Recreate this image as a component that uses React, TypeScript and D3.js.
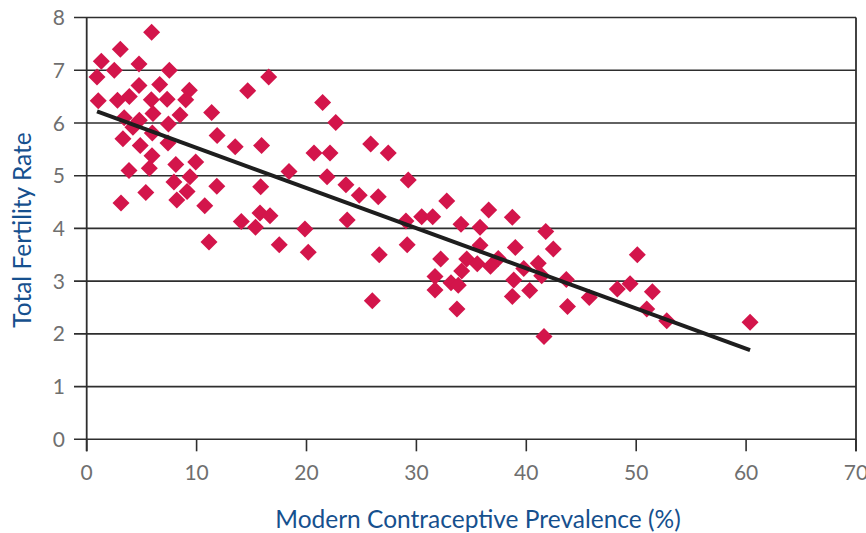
import React from "react";
import * as d3 from "d3";

// Modern contraceptive prevalence (%) per country
const prevalence = [
  5.91, 3.06, 1.33, 2.51, 4.76, 7.52, 0.94, 16.56, 4.76, 6.64,
  3.88, 2.80, 9.34, 9.01, 14.65, 1.05, 5.88, 7.32, 6.03, 8.49,
  11.37, 3.41, 4.79, 7.44, 4.21, 5.97, 3.30, 11.87, 7.40, 4.87,
  13.51, 15.91, 5.94, 8.11, 9.92, 3.85, 5.70, 18.41, 9.40, 7.94,
  11.84, 15.83, 5.38, 9.13, 8.20, 3.12, 10.74, 14.07, 15.36, 15.77,
  16.68, 11.13, 17.52, 21.47, 22.66, 20.68, 22.14, 25.84, 27.44, 21.87,
  23.59, 24.80, 26.53, 29.26, 23.70, 19.86, 20.16, 26.62, 29.05, 30.48,
  31.48, 32.76, 34.06, 35.79, 36.58, 38.73, 29.16, 32.21, 35.79, 39.00,
  41.77, 42.46, 25.99, 31.69, 31.69, 33.15, 33.81, 33.69, 34.58, 34.12,
  35.54, 36.74, 37.45, 39.77, 41.09, 41.40, 38.86, 38.73, 40.31, 43.64,
  43.75, 41.61, 45.73, 48.28, 49.44, 50.10, 51.47, 50.96, 52.78, 60.36,
];

// Total fertility rate per country
const fertility = [
  7.72, 7.40, 7.17, 7.00, 7.12, 7.00, 6.87, 6.87, 6.71, 6.73,
  6.50, 6.43, 6.62, 6.44, 6.61, 6.42, 6.44, 6.45, 6.18, 6.15,
  6.20, 6.10, 6.05, 5.98, 5.92, 5.81, 5.70, 5.76, 5.62, 5.57,
  5.55, 5.57, 5.38, 5.21, 5.26, 5.10, 5.14, 5.08, 4.98, 4.88,
  4.80, 4.79, 4.68, 4.70, 4.54, 4.48, 4.43, 4.13, 4.02, 4.29,
  4.24, 3.74, 3.69, 6.39, 6.01, 5.43, 5.43, 5.60, 5.43, 4.98,
  4.83, 4.63, 4.60, 4.92, 4.16, 3.99, 3.55, 3.50, 4.14, 4.22,
  4.22, 4.52, 4.08, 4.02, 4.35, 4.21, 3.69, 3.42, 3.68, 3.64,
  3.94, 3.61, 2.63, 3.09, 2.83, 2.97, 2.92, 2.47, 3.42, 3.19,
  3.33, 3.28, 3.43, 3.24, 3.34, 3.10, 3.02, 2.71, 2.82, 3.03,
  2.52, 1.95, 2.69, 2.85, 2.95, 3.50, 2.80, 2.47, 2.25, 2.22,
];

const xTicks = [0, 10, 20, 30, 40, 50, 60, 70];
const yTicks = [0, 1, 2, 3, 4, 5, 6, 7, 8];

// Linear trend line coefficients
const trendIntercept = 6.29;
const trendSlope = -0.0762;

const xTitle = "Modern Contraceptive Prevalence (%)";
const yTitle = "Total Fertility Rate";

const W = 866;
const H = 533;
const left = 86.7;
const right = 856;
const top = 17.5;
const bottom = 439.3;

export default function App() {
  const x = d3.scaleLinear().domain([0, 70]).range([left, right]);
  const y = d3.scaleLinear().domain([0, 8]).range([bottom, top]);
  const points = prevalence.map((p, i) => ({ p, f: fertility[i] }));
  const [xMin, xMax] = d3.extent(prevalence) as [number, number];
  const trend = [xMin, xMax].map((v) => [v, trendIntercept + trendSlope * v] as [number, number]);
  const line = d3
    .line<[number, number]>()
    .x((d) => x(d[0]))
    .y((d) => y(d[1]));
  const r = 8.5;
  const font = "Lato, 'Open Sans', sans-serif";
  const grid = "#2e2e2e";

  return (
    <div style={{ position: "absolute", left: 0, top: 0 }}>
      <svg width={W} height={H} style={{ display: "block", background: "#fff" }}>
        {yTicks.map((t) => (
          <g key={"y" + t}>
            <line x1={74} x2={right} y1={y(t)} y2={y(t)} stroke={grid} strokeWidth={1.6} />
            <text
              x={65}
              y={y(t)}
              dy="0.36em"
              textAnchor="end"
              fontFamily={font}
              fontSize={21}
              fill="#6f6f6f"
            >
              {t}
            </text>
          </g>
        ))}
        {xTicks.map((t) => (
          <g key={"x" + t}>
            <line x1={x(t)} x2={x(t)} y1={bottom} y2={bottom + 12} stroke={grid} strokeWidth={1.6} />
            <text
              x={x(t)}
              y={480}
              textAnchor="middle"
              fontFamily={font}
              fontSize={21}
              fill="#6f6f6f"
            >
              {t}
            </text>
          </g>
        ))}
        <line x1={left} x2={left} y1={top} y2={bottom + 12} stroke={grid} strokeWidth={1.8} />
        <line x1={right} x2={right} y1={top} y2={bottom + 12} stroke={grid} strokeWidth={1.8} />
        {points.map((d, i) => {
          const cx = x(d.p);
          const cy = y(d.f);
          return (
            <path
              key={i}
              d={`M${cx},${cy - r}L${cx + r},${cy}L${cx},${cy + r}L${cx - r},${cy}Z`}
              fill="#d3154b"
            />
          );
        })}
        <path d={line(trend) || ""} fill="none" stroke="#1e1e1e" strokeWidth={4} />
        <text
          x={478}
          y={528}
          textAnchor="middle"
          fontFamily={font}
          fontSize={24.5}
          fill="#16508e"
        >
          {xTitle}
        </text>
        <text
          transform={`translate(31,${230}) rotate(-90)`}
          textAnchor="middle"
          fontFamily={font}
          fontSize={24.5}
          fill="#16508e"
        >
          {yTitle}
        </text>
      </svg>
    </div>
  );
}
